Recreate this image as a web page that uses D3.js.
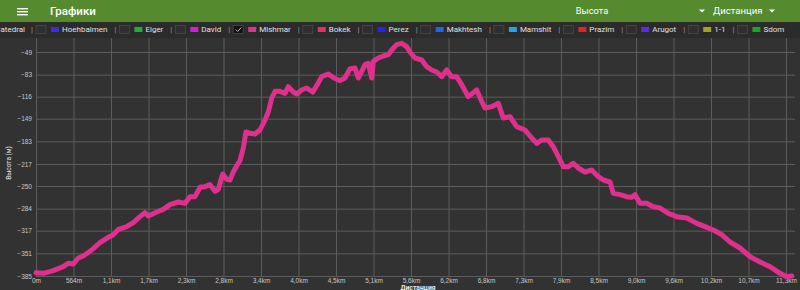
<!DOCTYPE html>
<html>
<head>
<meta charset="utf-8">
<script src="https://cdn.jsdelivr.net/npm/d3@7"></script>
<style>
  html, body { margin: 0; padding: 0; background: #323232; }
  svg { display: block; font-family: Roboto, "Noto Sans", sans-serif; }
  .tick text { fill: #c8c8c8; font-size: 6.5px; }
  .grid line { stroke: #5c5c5c; stroke-width: 1; }
  .grid path { display: none; }
</style>
</head>
<body>
<div id="chart"></div>
<script>
// distance along the track (m) and elevation (m)
var distM = [0, 110, 260, 410, 486, 561, 636, 711, 838, 963, 1087, 1163, 1238, 1364, 1463, 1564, 1639, 1689,
  1815, 1915, 2015, 2140, 2241, 2316, 2391, 2467, 2542, 2617, 2692, 2742, 2808, 2868, 2918, 2967, 3028, 3068,
  3118, 3158, 3219, 3294, 3369, 3444, 3494, 3545, 3595, 3670, 3745, 3795, 3870, 3921, 3996, 4071, 4162, 4231,
  4297, 4396, 4482, 4572, 4647, 4723, 4798, 4847, 4899, 4948, 4998, 5049, 5073, 5148, 5223, 5299, 5350, 5425,
  5500, 5575, 5625, 5700, 5801, 5876, 5951, 6027, 6102, 6177, 6252, 6327, 6402, 6502, 6628, 6703, 6753, 6854,
  6953, 7028, 7129, 7230, 7355, 7455, 7531, 7606, 7705, 7780, 7856, 7931, 8006, 8081, 8156, 8257, 8358, 8457,
  8532, 8633, 8683, 8783, 8884, 8959, 9009, 9084, 9185, 9284, 9385, 9510, 9636, 9787, 9937, 10062, 10187,
  10313, 10438, 10589, 10739, 10889, 11040, 11190, 11290, 11366];
var elevM = [-380, -381, -377, -371, -366, -367, -358, -355, -346, -335, -327, -323, -315, -311, -305, -296, -290, -295,
  -289, -285, -278, -274, -276, -266, -266, -252, -251, -248, -258, -255, -232, -240, -241, -229, -218, -212,
  -193, -169, -171, -172, -166, -151, -139, -118, -108, -108, -111, -101, -109, -112, -106, -103, -109, -98,
  -86, -82, -88, -92, -88, -74, -73, -88, -78, -68, -66, -88, -63, -58, -55, -53, -46, -38,
  -36, -41, -49, -58, -61, -71, -76, -79, -86, -76, -86, -86, -98, -116, -106, -123, -133, -131,
  -126, -148, -146, -161, -166, -178, -186, -181, -181, -191, -206, -221, -221, -216, -223, -229, -226, -236,
  -241, -244, -261, -263, -266, -267, -263, -276, -276, -281, -283, -291, -296, -298, -306, -311, -316,
  -323, -334, -343, -356, -364, -371, -381, -386, -385];

var yTicks = [-49, -83, -116, -149, -183, -217, -250, -284, -317, -351, -385];
var xTickLabels = ["0m", "564m", "1,1km", "1,7km", "2,3km", "2,8km", "3,4km", "4,0km", "4,5km", "5,1km",
  "5,6km", "6,2km", "6,8km", "7,3km", "7,9km", "8,5km", "9,0km", "9,6km", "10,2km", "10,7km", "11,3km"];
var xTickStep = 564;

var legendNames = ["Hoehbalmen", "Eiger", "David", "Mishmar", "Bokek", "Perez", "Makhtesh", "Mamshit",
  "Prazim", "Arugot", "1-1", "Sdom"];
var legendColors = ["#3a2fe0", "#1fae3a", "#d21fd6", "#d8358f", "#e23060", "#2424ea", "#2066e0", "#26a2e6",
  "#e02424", "#5a2de0", "#a3a320", "#1ea51e"];
var legendChecked = "Mishmar";

var W = 800, H = 290;
var plot = { left: 36, right: 795, top: 38, bottom: 276 };

var svg = d3.select("#chart").append("svg")
  .attr("width", W)
  .attr("height", H);

svg.append("rect").attr("width", W).attr("height", H).attr("fill", "#323232");

// header bar
svg.append("rect").attr("width", W).attr("height", 22).attr("fill", "#568a2f");
[0, 3, 6].forEach(function(o) {
  svg.append("rect").attr("x", 17).attr("y", 8 + o).attr("width", 11).attr("height", 1.4).attr("fill", "#fff");
});
svg.append("text").attr("x", 50).attr("y", 15).attr("fill", "#fff")
  .attr("font-size", 11.5).attr("font-weight", 500).text("Графики");
svg.append("text").attr("x", 592).attr("y", 14).attr("fill", "#fff")
  .attr("font-size", 9.3).attr("text-anchor", "middle").text("Высота");
svg.append("text").attr("x", 713).attr("y", 14).attr("fill", "#fff")
  .attr("font-size", 9.6).text("Дистанция");
[702, 772].forEach(function(x) {
  svg.append("path").attr("d", `M${x - 3},9.5L${x + 3},9.5L${x},12.5Z`).attr("fill", "#fff");
});

// legend strip
svg.append("rect").attr("y", 22).attr("width", W).attr("height", 16).attr("fill", "#2b2b2b");
var legend = svg.append("g").attr("font-size", 8).attr("fill", "#e0e0e0");
legend.append("text").attr("x", 25).attr("y", 32).attr("text-anchor", "end").text("Catedral");
var lx = 31;
legendNames.forEach(function(name, i) {
  legend.append("text").attr("x", lx).attr("y", 32).attr("fill", "#9a9a9a").text("|");
  lx += 5;
  legend.append("rect").attr("x", lx).attr("y", 25.5).attr("width", 10).attr("height", 8)
    .attr("fill", name === legendChecked ? "#111" : "#2f2f2f")
    .attr("stroke", "#4a4a4a").attr("stroke-width", 0.8);
  if (name === legendChecked) {
    legend.append("path").attr("d", `M${lx + 2.5},29.5L${lx + 4.5},31.5L${lx + 8},27.5`)
      .attr("fill", "none").attr("stroke", "#bbb").attr("stroke-width", 1);
  }
  lx += 15;
  legend.append("rect").attr("x", lx).attr("y", 27).attr("width", 8).attr("height", 5)
    .attr("fill", legendColors[i]);
  lx += 11;
  var t = legend.append("text").attr("x", lx).attr("y", 32).text(name);
  lx += t.node().getComputedTextLength() + 7;
});

// scales
var x = d3.scaleLinear().domain([0, xTickStep * 20]).range([plot.left, 786]);
var y = d3.scaleLinear().domain([-385, -49]).range([plot.bottom, 52]);

// grid
svg.append("g").attr("class", "grid")
  .attr("transform", `translate(0,${plot.bottom})`)
  .call(d3.axisBottom(x).tickValues(xTickLabels.map(function(d, i) { return i * xTickStep; }))
    .tickSize(-(plot.bottom - plot.top)).tickFormat(""));
svg.append("g").attr("class", "grid")
  .attr("transform", `translate(${plot.left},0)`)
  .call(d3.axisLeft(y).tickValues(yTicks).tickSize(-(plot.right - plot.left)).tickFormat(""));

// axes labels
var xAxis = svg.append("g")
  .attr("transform", `translate(0,${plot.bottom})`)
  .call(d3.axisBottom(x).tickValues(xTickLabels.map(function(d, i) { return i * xTickStep; }))
    .tickSize(0).tickPadding(2).tickFormat(function(d, i) { return xTickLabels[i]; }));
xAxis.select(".domain").remove();

var yAxis = svg.append("g")
  .attr("transform", `translate(${plot.left},0)`)
  .call(d3.axisLeft(y).tickValues(yTicks).tickSize(0).tickPadding(4));
yAxis.select(".domain").remove();

svg.append("text").attr("x", 418).attr("y", 289.5).attr("text-anchor", "middle")
  .attr("fill", "#e6e6e6").attr("font-size", 6.8).attr("font-weight", "bold").text("Дистанция");
svg.append("text").attr("transform", "translate(11,163) rotate(-90)").attr("text-anchor", "middle")
  .attr("fill", "#e6e6e6").attr("font-size", 6.5).text("Высота (м)");

// elevation line
var line = d3.line()
  .x(function(d, i) { return x(distM[i]); })
  .y(function(d) { return y(d); });

svg.append("path")
  .datum(elevM)
  .attr("d", line)
  .attr("fill", "none")
  .attr("stroke", "#e0308e")
  .attr("stroke-width", 5)
  .attr("stroke-linejoin", "round")
  .attr("stroke-linecap", "round");
</script>
</body>
</html>
